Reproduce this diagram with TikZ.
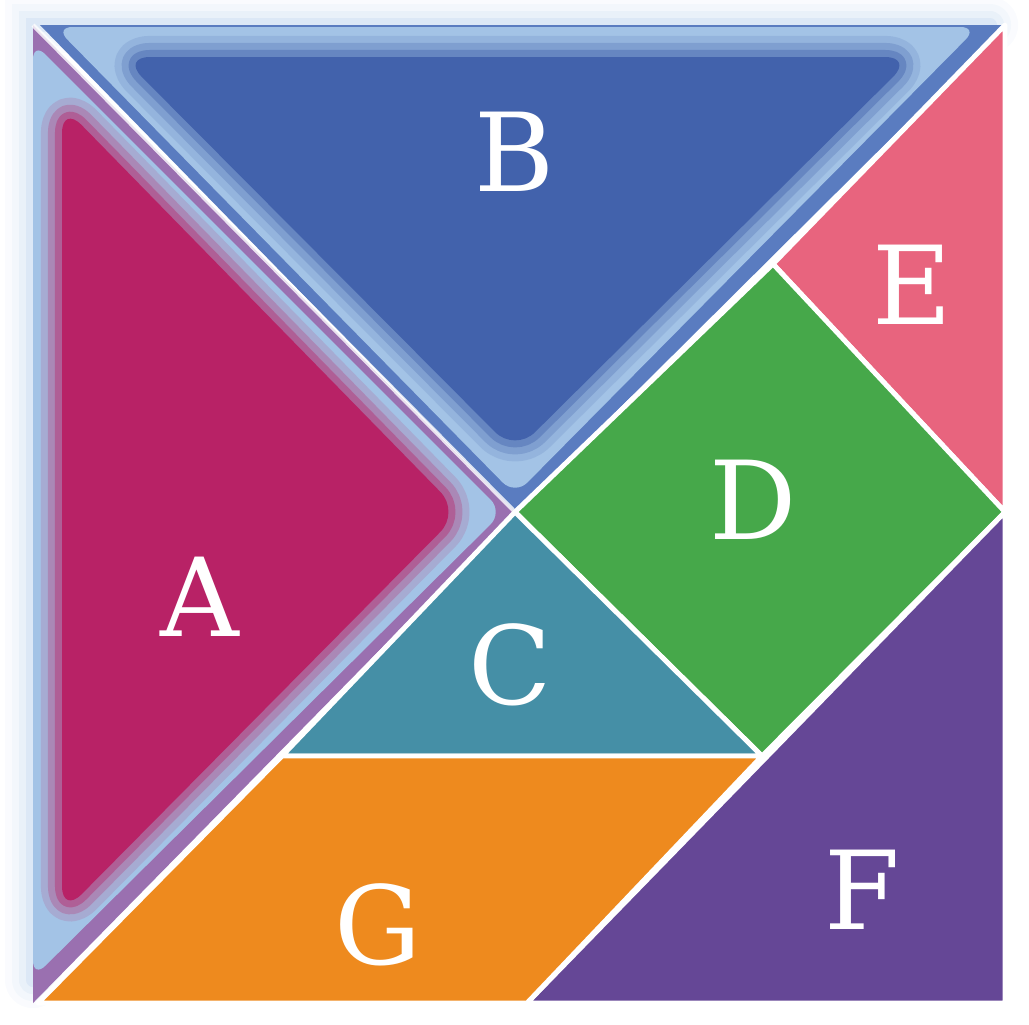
\documentclass[tikz,border=0pt]{standalone}
\usepackage{fontspec}
\setmainfont{DejaVu Serif}
\usetikzlibrary{calc}
\definecolor{bandblue}{HTML}{A3C3E6}
\definecolor{edgeblue}{HTML}{5A7CC0}
\definecolor{edgepurple}{HTML}{9A70B0}
\definecolor{pieceA}{HTML}{B82266}
\definecolor{pieceB}{HTML}{4262AC}
\definecolor{pieceC}{HTML}{458FA6}
\definecolor{pieceD}{HTML}{46A84A}
\definecolor{pieceE}{HTML}{E8647E}
\definecolor{pieceF}{HTML}{654796}
\definecolor{pieceG}{HTML}{EE8A1E}
\tikzset{piece/.style={draw=white,line width=1.4pt,line join=round}}
\tikzset{lbl/.style={text=white,font=\fontsize{31}{37}\selectfont}}
\tikzset{soft/.style={rounded corners=8pt,line join=round}}

\begin{document}
\begin{tikzpicture}[x=1cm,y=-1cm]

\useasboundingbox (0,0) rectangle (10.29,10.24);

\coordinate (tl) at (0.33,0.25);
\coordinate (tr) at (10.05,0.25);
\coordinate (br) at (10.05,10.03);
\coordinate (bl) at (0.33,10.03);
\coordinate (o) at (5.15,5.12);
\coordinate (p) at (7.73,2.64);
\coordinate (r) at (10.05,5.12);
\coordinate (q) at (7.62,7.56);
\coordinate (s) at (2.82,7.56);
\coordinate (t) at (5.27,10.03);

% haze round the two big pieces
\foreach \w/\op in {16/0.06,12/0.08,8/0.12,4/0.18}
  \draw[bandblue,line width=\w pt,opacity=\op,line cap=round]
    (0.33,9.8) -- (tl) -- (9.9,0.25);

% big triangle A
\fill[edgepurple] (tl) -- (o) -- (bl) -- cycle;
\fill[bandblue,rounded corners=5pt] (0.33,0.42) -- (5.03,5.12) -- (0.33,9.78) -- cycle;
\foreach \w/\op in {12/0.15,8/0.25,4/0.4}
  \draw[pieceA,soft,line width=\w pt,opacity=\op]
    (0.62,1.05) -- (4.60,5.12) -- (0.62,9.14) -- cycle;
\fill[pieceA,soft] (0.62,1.05) -- (4.60,5.12) -- (0.62,9.14) -- cycle;

% big triangle B
\fill[edgeblue] (0.40,0.25) -- (tr) -- (o) -- cycle;
\fill[bandblue,rounded corners=5pt] (0.55,0.27) -- (9.78,0.27) -- (5.15,4.95) -- cycle;
\foreach \w/\op in {12/0.15,8/0.25,4/0.4}
  \draw[pieceB,soft,line width=\w pt,opacity=\op]
    (1.22,0.57) -- (9.13,0.57) -- (5.15,4.52) -- cycle;
\fill[pieceB,soft] (1.22,0.57) -- (9.13,0.57) -- (5.15,4.52) -- cycle;
\draw[white,line width=1.2pt,opacity=0.8] (tl) -- (o);

% small and middle pieces
\filldraw[piece,fill=pieceE] (tr) -- (r) -- (p) -- cycle;
\filldraw[piece,fill=pieceD] (p) -- (r) -- (q) -- (o) -- cycle;
\filldraw[piece,fill=pieceC] (o) -- (q) -- (s) -- cycle;
\filldraw[piece,fill=pieceF] (r) -- (br) -- (t) -- cycle;
\filldraw[piece,fill=pieceG] (s) -- (q) -- (t) -- (0.38,10.03) -- cycle;

\node[lbl] (labA) at (2.00,5.97) {A};
\node[lbl] (labB) at (5.15,1.52) {B};
\node[lbl] (labC) at (5.10,6.65) {C};
\node[lbl] (labD) at (7.53,5.00) {D};
\node[lbl] (labE) at (9.12,2.85) {E};
\node[lbl] (labF) at (8.62,8.90) {F};
\node[lbl] (labG) at (3.78,9.25) {G};

\end{tikzpicture}
\end{document}
